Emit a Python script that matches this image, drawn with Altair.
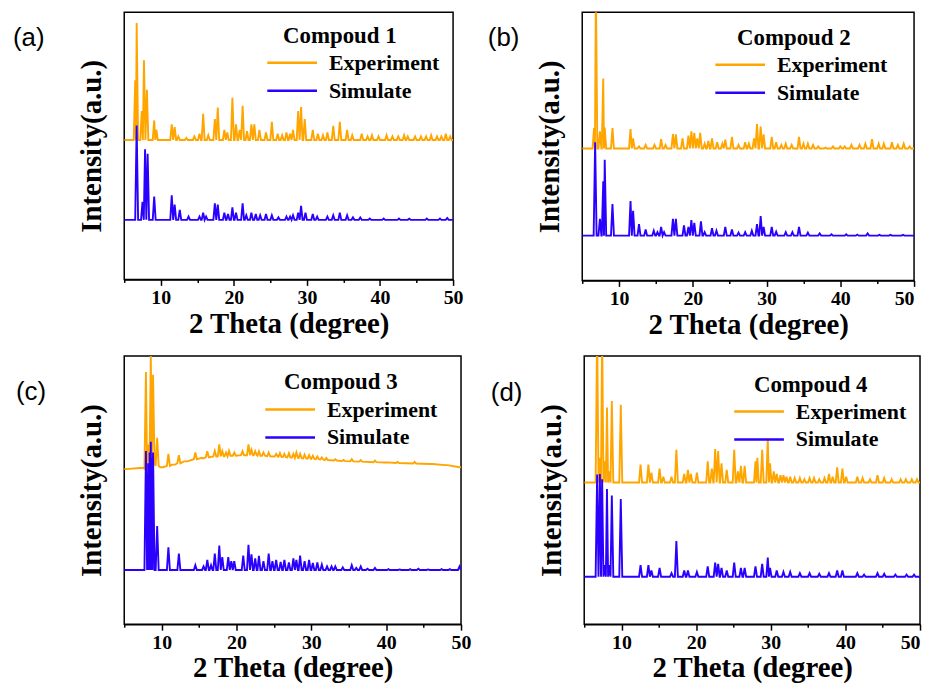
import altair as alt
import pandas as pd

# ---------------- data ----------------
# peaks: (2theta, top) or (2theta, top, local baseline); y is fraction of panel height
A_TITLE = "Compoud 1"
A_EXP_BASE = 0.522
A_EXP = [(6.5, 0.745), (6.7, 0.96), (7.4, 0.63), (7.7, 0.82), (8.1, 0.71), (9.1, 0.595), (9.4, 0.56),
         (11.5, 0.58), (11.9, 0.57), (12.4, 0.535), (13.5, 0.53), (14.6, 0.535), (15.3, 0.545), (15.8, 0.62),
         (16.5, 0.54), (17.4, 0.60), (17.8, 0.643), (18.7, 0.56), (19.1, 0.55), (19.8, 0.68), (20.3, 0.58),
         (20.8, 0.56), (21.2, 0.65), (21.8, 0.555), (22.4, 0.58), (22.8, 0.58), (23.5, 0.56), (24.4, 0.55),
         (25.2, 0.59), (26.0, 0.545), (26.6, 0.54), (27.2, 0.55), (27.7, 0.545), (28.1, 0.56), (28.8, 0.63),
         (29.2, 0.645), (29.7, 0.60), (30.8, 0.56), (31.5, 0.545), (32.2, 0.54), (32.8, 0.55), (33.6, 0.575),
         (34.5, 0.59), (35.5, 0.56), (36.2, 0.54), (37.5, 0.545), (38.3, 0.535), (38.9, 0.54), (39.8, 0.535),
         (40.9, 0.54), (41.7, 0.535), (42.5, 0.535), (43.3, 0.54), (43.8, 0.535), (44.8, 0.535), (45.6, 0.535),
         (46.3, 0.535), (47.0, 0.54), (47.8, 0.535), (48.4, 0.535), (49.0, 0.545), (49.6, 0.535)]
A_SIM_BASE = 0.223
A_SIM = [(6.7, 0.576), (7.5, 0.29), (7.85, 0.487), (8.2, 0.47), (9.1, 0.31), (11.5, 0.315), (11.9, 0.28),
         (12.6, 0.26), (13.8, 0.235), (15.3, 0.235), (15.8, 0.25), (16.2, 0.235), (17.4, 0.285), (17.8, 0.28),
         (18.7, 0.25), (19.2, 0.245), (19.8, 0.27), (20.3, 0.25), (21.2, 0.285), (21.7, 0.24), (22.4, 0.25),
         (23.0, 0.245), (23.6, 0.24), (24.4, 0.245), (25.2, 0.24), (26.1, 0.232), (27.2, 0.235), (27.7, 0.235),
         (28.1, 0.24), (28.8, 0.25), (29.2, 0.275), (29.8, 0.25), (30.8, 0.245), (31.4, 0.235), (32.8, 0.235),
         (33.6, 0.24), (34.5, 0.25), (35.5, 0.24), (36.3, 0.232), (37.3, 0.232), (38.6, 0.228), (40.5, 0.228),
         (42.6, 0.228), (44.0, 0.227), (46.4, 0.228), (48.2, 0.228), (49.2, 0.23)]

B_TITLE = "Compoud 2"
B_EXP_BASE = 0.492
B_EXP = [(6.6, 0.568), (6.85, 1.1), (7.4, 0.556), (7.85, 0.753), (8.05, 0.57), (9.1, 0.568), (11.55, 0.564),
         (11.9, 0.53), (12.7, 0.50), (13.6, 0.505), (14.8, 0.505), (15.7, 0.527), (16.3, 0.505), (17.3, 0.546),
         (17.7, 0.545), (18.6, 0.53), (19.4, 0.54), (19.8, 0.556), (20.2, 0.55), (20.6, 0.53), (21.0, 0.55),
         (21.6, 0.51), (22.1, 0.52), (22.6, 0.53), (23.3, 0.515), (24.0, 0.51), (24.4, 0.525), (25.3, 0.535),
         (26.2, 0.505), (27.1, 0.515), (27.6, 0.51), (28.3, 0.53), (28.7, 0.583), (29.2, 0.574), (29.6, 0.545),
         (30.7, 0.535), (31.3, 0.515), (32.0, 0.505), (32.6, 0.51), (33.4, 0.505), (34.4, 0.535), (35.0, 0.51),
         (35.6, 0.51), (36.3, 0.505), (37.0, 0.50), (38.0, 0.495), (39.0, 0.50), (40.0, 0.50), (40.6, 0.50),
         (41.5, 0.505), (42.6, 0.505), (43.4, 0.51), (44.3, 0.527), (45.2, 0.51), (45.9, 0.51), (47.0, 0.515),
         (47.8, 0.505), (48.6, 0.51), (49.4, 0.50)]
B_SIM_BASE = 0.167
B_SIM = [(6.75, 0.515), (7.4, 0.23), (7.85, 0.37), (8.05, 0.45), (9.1, 0.285), (11.55, 0.296), (11.9, 0.26),
         (12.7, 0.21), (13.6, 0.19), (14.7, 0.185), (15.2, 0.18), (15.7, 0.20), (16.1, 0.18), (17.3, 0.23),
         (17.7, 0.23), (18.8, 0.205), (19.4, 0.20), (19.8, 0.225), (20.2, 0.215), (21.1, 0.22), (21.6, 0.18),
         (22.6, 0.195), (23.2, 0.185), (24.4, 0.20), (25.3, 0.19), (26.2, 0.178), (27.1, 0.18), (28.0, 0.185),
         (28.7, 0.21), (29.2, 0.24), (29.6, 0.20), (30.7, 0.20), (31.3, 0.182), (32.6, 0.18), (33.5, 0.18),
         (34.4, 0.20), (35.6, 0.178), (37.2, 0.175), (38.8, 0.172), (40.8, 0.172), (42.3, 0.171), (43.7, 0.175),
         (45.3, 0.17), (46.8, 0.17), (48.5, 0.17)]

C_TITLE = "Compoud 3"
C_EXP_BASE = 0.60
C_EXP = [(5.0, 0.578, 0.578), (7.3, 0.582, 0.582), (7.9, 0.94, 0.58), (8.2, 0.67, 0.60), (8.55, 1.0, 0.60),
         (8.85, 0.93, 0.60), (9.4, 0.695, 0.59), (10.0, 0.585, 0.585), (10.9, 0.635, 0.59), (11.6, 0.595, 0.595),
         (12.3, 0.63, 0.60), (13.2, 0.607, 0.607), (14.5, 0.64, 0.615), (15.3, 0.62, 0.618), (16.1, 0.645, 0.622),
         (17.1, 0.646, 0.625), (17.7, 0.67, 0.625), (18.1, 0.645, 0.626), (18.6, 0.64, 0.626), (19.0, 0.646, 0.628),
         (19.7, 0.64, 0.628), (20.8, 0.645, 0.63), (21.6, 0.67, 0.63), (22.0, 0.65, 0.63), (22.5, 0.645, 0.63),
         (23.0, 0.645, 0.628), (23.6, 0.64, 0.628), (24.3, 0.64, 0.626), (25.3, 0.635, 0.625), (25.8, 0.638, 0.624),
         (26.4, 0.635, 0.623), (27.0, 0.637, 0.622), (27.6, 0.635, 0.621), (28.0, 0.64, 0.62), (28.5, 0.635, 0.619),
         (29.1, 0.632, 0.618), (29.7, 0.63, 0.617), (30.2, 0.628, 0.616), (30.8, 0.625, 0.615), (31.4, 0.622, 0.614),
         (32.0, 0.62, 0.612), (33.2, 0.615, 0.61), (34.3, 0.612, 0.608), (35.4, 0.615, 0.607), (36.6, 0.612, 0.606),
         (38.5, 0.61, 0.604), (40.0, 0.603, 0.603), (41.5, 0.605, 0.601), (43.8, 0.605, 0.599), (46.0, 0.597, 0.597),
         (48.0, 0.593, 0.593), (50.0, 0.585, 0.585)]
C_SIM_BASE = 0.202
C_SIM = [(7.9, 0.646), (8.2, 0.60), (8.4, 0.64), (8.55, 0.68), (8.7, 0.62), (8.85, 0.64), (9.4, 0.366),
         (10.9, 0.287), (12.3, 0.263), (14.5, 0.22), (15.6, 0.215), (16.1, 0.24), (16.6, 0.22), (17.1, 0.263),
         (17.7, 0.293), (18.1, 0.25), (18.9, 0.25), (19.3, 0.235), (19.7, 0.235), (20.9, 0.256), (21.6, 0.296),
         (22.0, 0.26), (22.5, 0.245), (23.0, 0.255), (23.6, 0.235), (24.3, 0.263), (24.8, 0.235), (25.3, 0.24),
         (25.9, 0.232), (26.4, 0.24), (27.0, 0.23), (27.6, 0.245), (28.0, 0.24), (28.5, 0.256), (29.1, 0.235),
         (29.7, 0.24), (30.2, 0.228), (30.8, 0.23), (31.4, 0.222), (32.1, 0.215), (32.7, 0.215), (33.2, 0.215),
         (34.2, 0.212), (35.4, 0.22), (36.0, 0.21), (36.6, 0.215), (37.5, 0.207), (38.5, 0.21), (40.3, 0.205),
         (41.8, 0.204), (43.2, 0.205), (44.3, 0.207), (45.6, 0.204), (47.4, 0.205), (48.5, 0.205), (49.8, 0.215)]

D_TITLE = "Compoud 4"
D_EXP_BASE = 0.528
D_EXP = [(6.73, 1.1), (7.1, 0.62), (7.4, 1.1), (7.75, 0.607), (8.05, 0.808), (8.35, 0.57), (8.7, 0.832),
         (9.9, 0.818), (12.55, 0.595), (13.6, 0.595), (14.0, 0.565), (15.1, 0.58), (15.6, 0.55), (16.7, 0.55),
         (17.35, 0.65), (18.4, 0.56), (18.9, 0.575), (19.3, 0.56), (20.1, 0.565), (21.55, 0.607), (22.1, 0.58),
         (22.55, 0.653), (22.95, 0.645), (23.4, 0.60), (24.1, 0.575), (25.1, 0.65), (25.6, 0.57), (26.0, 0.59),
         (26.5, 0.59), (27.95, 0.607), (28.2, 0.62), (28.85, 0.65), (29.6, 0.692), (29.9, 0.60), (30.4, 0.57),
         (30.8, 0.56), (31.3, 0.555), (31.7, 0.555), (32.1, 0.55), (32.6, 0.55), (33.2, 0.545), (33.9, 0.545),
         (34.5, 0.54), (35.2, 0.545), (35.8, 0.545), (36.5, 0.54), (37.2, 0.545), (37.8, 0.56), (38.3, 0.55),
         (38.9, 0.585), (39.6, 0.58), (40.1, 0.55), (41.6, 0.55), (42.3, 0.545), (43.3, 0.54), (44.3, 0.555),
         (45.2, 0.545), (46.2, 0.54), (47.4, 0.54), (48.1, 0.54), (48.9, 0.54), (49.6, 0.54)]
D_SIM_BASE = 0.177
D_SIM = [(6.73, 0.558), (7.1, 0.56), (7.4, 0.54), (7.75, 0.22), (8.05, 0.504), (8.35, 0.22), (8.7, 0.48),
         (9.9, 0.467), (12.55, 0.22), (13.6, 0.22), (14.0, 0.20), (15.1, 0.21), (16.7, 0.19), (17.35, 0.31),
         (18.4, 0.20), (18.9, 0.20), (20.1, 0.195), (21.55, 0.215), (22.55, 0.23), (22.95, 0.225), (23.4, 0.21),
         (24.1, 0.20), (25.1, 0.23), (26.0, 0.21), (26.5, 0.21), (27.95, 0.215), (28.85, 0.225), (29.6, 0.248),
         (29.9, 0.21), (30.8, 0.20), (31.7, 0.195), (32.6, 0.195), (33.9, 0.19), (35.2, 0.19), (36.5, 0.188),
         (37.8, 0.19), (38.9, 0.20), (39.6, 0.20), (41.6, 0.19), (42.5, 0.185), (44.3, 0.19), (45.2, 0.188),
         (46.7, 0.185), (48.2, 0.185), (49.2, 0.185)]

SERIES = ["Experiment", "Simulate"]
COLORS = ["#FFA500", "#2A00FF"]
X_TICKS = [5, 10, 15, 20, 25, 30, 35, 40, 45, 50]

SERIF = "Liberation Serif"
SANS = "Liberation Sans"
HALF_W = 0.2


def trace(peaks, base, series):
    items = sorted((p[0], p[1], p[2] if len(p) > 2 else base) for p in peaks)
    xs, ys = [5.0], [items[0][2]]
    for i, (pos, top, foot) in enumerate(items):
        if i == 0 or pos - items[i - 1][0] >= 2 * HALF_W:
            xs.append(pos - HALF_W); ys.append(foot)
        else:
            xs.append((pos + items[i - 1][0]) / 2); ys.append(min(foot, items[i - 1][2]))
        xs.append(pos); ys.append(top)
        if i == len(items) - 1 or items[i + 1][0] - pos >= 2 * HALF_W:
            xs.append(pos + HALF_W); ys.append(foot)
    xs.append(50.0); ys.append(items[-1][2])
    return pd.DataFrame({"theta": xs, "intensity": ys, "series": series})


def txt(text, x, y, size, font=SERIF, weight="bold", align="left"):
    return alt.Chart(pd.DataFrame({"t": [text]})).mark_text(
        font=font, fontWeight=weight, fontSize=size, align=align, baseline="middle", color="black"
    ).encode(text="t:N", x=alt.value(x), y=alt.value(y))


def panel(label, title, exp, exp_base, sim, sim_base, w, h, lab_dx, lab_dy, tit_x, tit_y,
          leg_x, leg_y, flush):
    x_enc = alt.X("theta:Q", scale=alt.Scale(domain=[5, 50], nice=False, zero=False),
                  axis=alt.Axis(values=X_TICKS, title="2 Theta (degree)",
                                labelExpr="datum.value % 10 === 0 ? datum.label : ''",
                                tickSize={"condition": {"test": "datum.value % 10 === 0", "value": 6}, "value": 3},
                                labelPadding=2, titlePadding=2, labelFlush=flush))
    y_enc = alt.Y("intensity:Q", scale=alt.Scale(domain=[0, 1], nice=False, zero=False),
                  axis=alt.Axis(title="Intensity(a.u.)", labels=False, ticks=False, domain=False,
                                titlePadding=18))
    c_enc = alt.Color("series:N", scale=alt.Scale(domain=SERIES, range=COLORS), legend=None)
    layers = [
        alt.Chart(trace(exp, exp_base, "Experiment")).mark_line(clip=True, strokeWidth=1.9)
        .encode(x=x_enc, y=y_enc, color=c_enc),
        alt.Chart(trace(sim, sim_base, "Simulate")).mark_line(clip=True, strokeWidth=1.9)
        .encode(x=x_enc, y=y_enc, color=c_enc),
        txt(title, tit_x, tit_y, 23, align="center"),
        txt(label, lab_dx, lab_dy, 26, font=SANS, weight="normal"),
    ]
    # legend: line sample + label for each series
    for name, col, dy in zip(SERIES, COLORS, [0, 28]):
        layers.append(
            alt.Chart(pd.DataFrame({"s": [name]})).mark_rule(color=col, strokeWidth=2.5)
            .encode(x=alt.value(leg_x), x2=alt.value(leg_x + 50), y=alt.value(leg_y + dy))
        )
        layers.append(txt(name, leg_x + 62, leg_y + dy, 22))
    return alt.layer(*layers).properties(width=w, height=h)


pa = panel("(a)", A_TITLE, A_EXP, A_EXP_BASE, A_SIM, A_SIM_BASE, 331, 269, -112, 26, 217, 24, 144, 51, False)
pb = panel("(b)", B_TITLE, B_EXP, B_EXP_BASE, B_SIM, B_SIM_BASE, 334, 270, -95, 26, 213, 26, 134, 53, True)
pc = panel("(c)", C_TITLE, C_EXP, C_EXP_BASE, C_SIM, C_SIM_BASE, 339, 270, -109, 36, 218, 26, 142, 54, False)
pd_ = panel("(d)", D_TITLE, D_EXP, D_EXP_BASE, D_SIM, D_SIM_BASE, 338, 270, -94, 37, 228, 29, 151, 56, True)

row1 = alt.hconcat(pa, pb, spacing=23)
row2 = alt.hconcat(pc, pd_, spacing=18)

chart = alt.vconcat(row1, row2, spacing=15).properties(
    padding={"left": 4, "top": 1, "right": 0, "bottom": 0}
).configure(
    background="white"
).configure_view(
    stroke="black", strokeWidth=1.5
).configure_axis(
    grid=False, domainColor="black", domainWidth=1.5, tickColor="black", tickWidth=1.5,
    labelFont=SERIF, labelFontWeight="bold", labelFontSize=20, labelColor="black",
    titleFont=SERIF, titleFontWeight="bold", titleFontSize=29, titleColor="black"
)

chart.save("out.html", embed_options={"renderer": "svg", "actions": False})
